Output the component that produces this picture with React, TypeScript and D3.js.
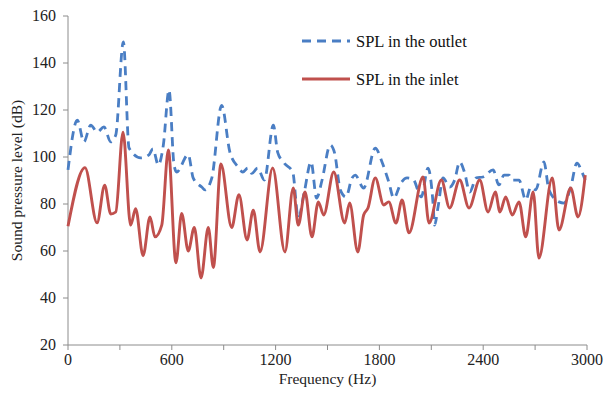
import React from "react";
import * as d3 from "d3";

// Sound pressure level spectra (frequency in Hz, level in dB)
const outletFreq = [0, 54, 92, 131, 169, 208, 247, 276, 320, 353, 420, 468, 491, 522, 551, 584, 613, 628, 695, 724, 773, 792, 831, 888, 936, 984, 1010, 1039, 1063, 1096, 1135, 1187, 1212, 1250, 1299, 1331, 1366, 1405, 1437, 1468, 1516, 1541, 1574, 1607, 1642, 1660, 1709, 1776, 1815, 1854, 1883, 1925, 1960, 1995, 2042, 2081, 2110, 2119, 2139, 2168, 2206, 2235, 2264, 2293, 2322, 2360, 2399, 2457, 2491, 2520, 2549, 2568, 2607, 2646, 2675, 2703, 2751, 2780, 2838, 2867, 2906, 2942, 2971, 2990];
const outletSPL = [94.5, 115.7, 106.4, 113.6, 110.6, 112.8, 106.4, 109.4, 149, 103.8, 99.6, 100.9, 103.5, 96.6, 105, 128.5, 96.6, 93.6, 101, 91, 87.2, 86, 91, 122, 102, 95.7, 93.6, 95.3, 93, 95.3, 90.2, 113.6, 102, 97.4, 93.6, 74, 85.1, 97.9, 82.5, 90, 105.1, 101.7, 86, 83, 91.1, 92.3, 86.8, 103.8, 97.9, 89.4, 82.5, 89, 91.1, 90.5, 83, 95.3, 80.4, 71, 78.7, 91.1, 87.2, 90.2, 97.9, 93.2, 85.1, 91.1, 91.5, 94.5, 88.1, 92.3, 92.3, 90.2, 90.2, 81.7, 87.2, 86, 97.9, 86, 80.9, 80.4, 87.2, 97.4, 93.6, 90.2];

const inletFreq = [0, 98, 168, 212, 247, 276, 318, 362, 391, 434, 474, 503, 542, 580, 624, 657, 695, 730, 769, 811, 840, 884, 946, 988, 1035, 1071, 1110, 1183, 1254, 1302, 1331, 1370, 1410, 1447, 1478, 1536, 1599, 1628, 1675, 1709, 1734, 1776, 1825, 1854, 1896, 1931, 1971, 2052, 2087, 2158, 2206, 2264, 2318, 2380, 2428, 2470, 2497, 2530, 2568, 2607, 2646, 2689, 2722, 2799, 2838, 2906, 2948, 2990];
const inletSPL = [70.5, 95.5, 72, 88, 75.7, 76.6, 110.6, 71, 78, 58, 74.5, 66, 71, 103, 55, 76, 60, 70, 48.5, 70, 53, 97, 70, 84, 64.7, 77.4, 59.6, 95.3, 59.6, 86.8, 71, 85.1, 66, 80.9, 75.3, 93.6, 71.9, 80.4, 59.6, 75.3, 78.3, 91.1, 79.6, 80.9, 71.9, 81.7, 67.7, 91.5, 71.9, 90.2, 78.3, 90.2, 78.3, 90.2, 76.6, 85.1, 76.6, 83, 75.3, 80.9, 66, 85.1, 57, 91.1, 68.9, 86.8, 74.5, 92.3];

const xTicks = [0, 300, 600, 900, 1200, 1500, 1800, 2100, 2400, 2700, 3000];
const xLabels = [0, 600, 1200, 1800, 2400, 3000];
const yTicks = [20, 40, 60, 80, 100, 120, 140, 160];

const seriesNames = ["SPL  in the outlet", "SPL  in the inlet"];

const W = 606;
const H = 393;
const margin = { left: 68, right: 19, top: 16, bottom: 48 };

const BLUE = "#4A7EC4";
const RED = "#C0504D";
const AXIS = "#8C8C8C";
const FONT = "'Liberation Serif', 'Times New Roman', serif";

export default function App() {
  const x = d3.scaleLinear().domain([0, 3000]).range([margin.left, W - margin.right]);
  const y = d3.scaleLinear().domain([20, 160]).range([H - margin.bottom, margin.top]);

  const line = d3
    .line<[number, number]>()
    .x((d) => x(d[0]))
    .y((d) => y(d[1]))
    .curve(d3.curveMonotoneX);

  const outlet = outletFreq.map((f, i) => [f, outletSPL[i]] as [number, number]);
  const inlet = inletFreq.map((f, i) => [f, inletSPL[i]] as [number, number]);

  const x0 = x(0);
  const y0 = y(20);

  return (
    <svg
      width={W}
      height={H}
      style={{ position: "absolute", left: 0, top: 0, background: "#fff" }}
      fontFamily={FONT}
    >
      {/* axes */}
      <line x1={x0} x2={x0} y1={y(160)} y2={y0} stroke={AXIS} strokeWidth={1} />
      <line x1={x0} x2={x(3000)} y1={y0} y2={y0} stroke={AXIS} strokeWidth={1} />
      {yTicks.map((t) => (
        <g key={"y" + t}>
          <line x1={x0 - 5} x2={x0} y1={y(t)} y2={y(t)} stroke={AXIS} />
          <text x={x0 - 12} y={y(t) + 5} textAnchor="end" fontSize={16} fill="#222">
            {t}
          </text>
        </g>
      ))}
      {xTicks.map((t) => (
        <line key={"x" + t} x1={x(t)} x2={x(t)} y1={y0} y2={y0 + 5} stroke={AXIS} />
      ))}
      {xLabels.map((t) => (
        <text key={"xl" + t} x={x(t)} y={y0 + 20} textAnchor="middle" fontSize={16} fill="#222">
          {t}
        </text>
      ))}
      <text x={(x0 + x(3000)) / 2} y={H - 9} textAnchor="middle" fontSize={15.5} fill="#222">
        Frequency (Hz)
      </text>
      <text
        transform={`translate(22, ${(y(160) + y0) / 2}) rotate(-90)`}
        textAnchor="middle"
        fontSize={15.5}
        fill="#222"
      >
        Sound pressure level (dB)
      </text>

      {/* series */}
      <path d={line(outlet) ?? ""} fill="none" stroke={BLUE} strokeWidth={2.8} strokeDasharray="9,6" />
      <path d={line(inlet) ?? ""} fill="none" stroke={RED} strokeWidth={2.9} />

      {/* legend */}
      <line x1={302} x2={350} y1={41} y2={41} stroke={BLUE} strokeWidth={2.8} strokeDasharray="9,6" />
      <text x={356} y={47} fontSize={16.5} fill="#111">
        {seriesNames[0]}
      </text>
      <line x1={302} x2={350} y1={79} y2={79} stroke={RED} strokeWidth={2.9} />
      <text x={356} y={85} fontSize={16.5} fill="#111">
        {seriesNames[1]}
      </text>
    </svg>
  );
}
